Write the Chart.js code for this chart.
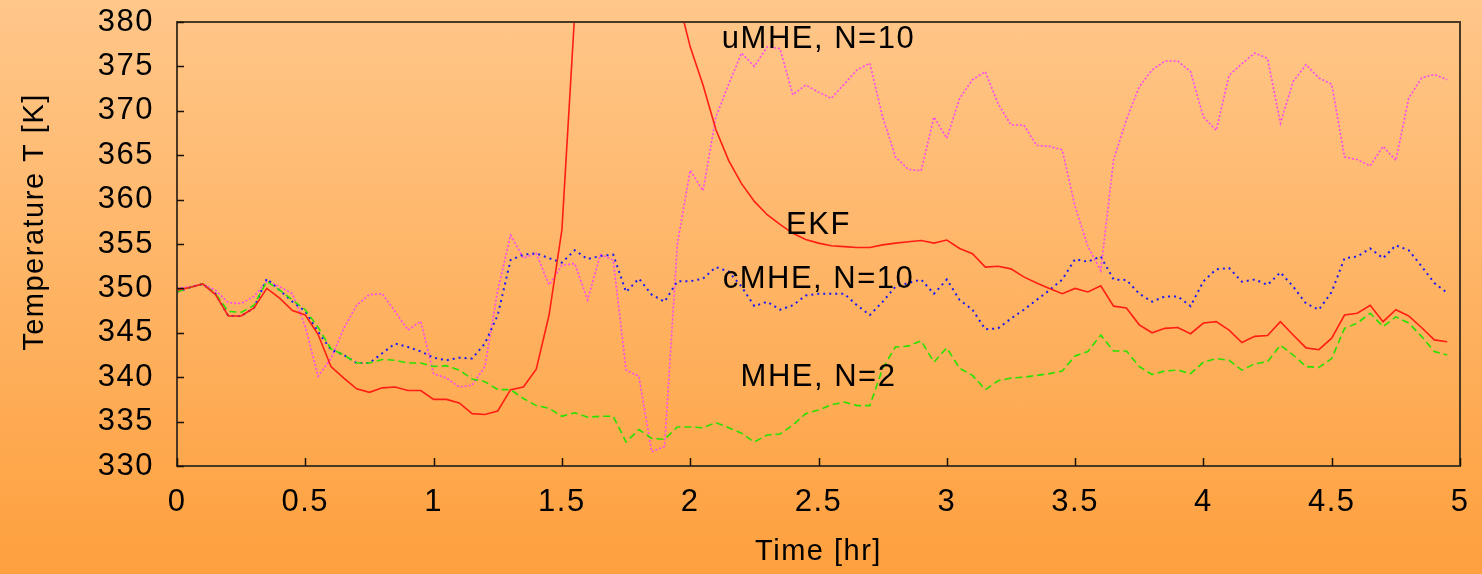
<!DOCTYPE html>
<html>
<head>
<meta charset="utf-8">
<script src="https://cdn.jsdelivr.net/npm/chart.js@4"></script>
<style>
    html, body {
        margin: 0;
        padding: 0;
    }
    body {
        width: 1482px;
        height: 574px;
        background: linear-gradient(to bottom, rgb(255, 199, 138), rgb(254, 160, 62));
        overflow: hidden;
    }
    #box {
        width: 1482px;
        height: 574px;
    }
</style>
</head>
<body>
<div id="box"><canvas id="tempChart"></canvas></div>
<script>
// time in hours, one sample every 3 minutes
const timeHr = [
    0, 0.05, 0.1, 0.15, 0.2, 0.25, 0.3, 0.35, 0.4, 0.45,
    0.5, 0.55, 0.6, 0.65, 0.7, 0.75, 0.8, 0.85, 0.9, 0.95,
    1, 1.05, 1.1, 1.15, 1.2, 1.25, 1.3, 1.35, 1.4, 1.45,
    1.5, 1.55, 1.6, 1.65, 1.7, 1.75, 1.8, 1.85, 1.9, 1.95,
    2, 2.05, 2.1, 2.15, 2.2, 2.25, 2.3, 2.35, 2.4, 2.45,
    2.5, 2.55, 2.6, 2.65, 2.7, 2.75, 2.8, 2.85, 2.9, 2.95,
    3, 3.05, 3.1, 3.15, 3.2, 3.25, 3.3, 3.35, 3.4, 3.45,
    3.5, 3.55, 3.6, 3.65, 3.7, 3.75, 3.8, 3.85, 3.9, 3.95,
    4, 4.05, 4.1, 4.15, 4.2, 4.25, 4.3, 4.35, 4.4, 4.45,
    4.5, 4.55, 4.6, 4.65, 4.7, 4.75, 4.8, 4.85, 4.9, 4.95
]

const ekf = [
    349.8, 350.1, 350.5, 349.3, 346.9, 346.9, 347.8, 350.0, 348.9, 347.5,
    347.0, 344.8, 341.2, 339.9, 338.7, 338.3, 338.8, 338.9, 338.5, 338.5,
    337.5, 337.5, 337.1, 335.9, 335.8, 336.2, 338.6, 338.9, 340.9, 347.0,
    356.6, 381.0, 392.0, 400.0, 404.0, 404.0, 400.0, 395.0, 389.0, 383.0,
    377.2, 372.9, 367.9, 364.4, 361.8, 359.8, 358.3, 357.2, 356.2, 355.5,
    355.1, 354.8, 354.7, 354.6, 354.6, 354.9, 355.1, 355.25, 355.4, 355.1,
    355.45, 354.5, 353.9, 352.4, 352.5, 352.2, 351.3, 350.6, 350.0, 349.4,
    350.0, 349.6, 350.3, 348.0, 347.8, 345.9, 345.0, 345.5, 345.6, 344.9,
    346.1, 346.25, 345.3, 343.9, 344.6, 344.7, 346.25, 344.75, 343.3, 343.1,
    344.4, 347.0, 347.2, 348.1, 346.25, 347.6, 346.9, 345.6, 344.2, 344.0
]

const mheN2 = [
    349.6, 350.1, 350.5, 349.4, 347.4, 347.3, 348.1, 350.8, 349.8, 348.7,
    347.6, 345.6, 343.2, 342.5, 341.6, 341.6, 342.0, 341.9, 341.6, 341.6,
    341.2, 341.3, 340.8, 339.8, 339.5, 338.6, 338.6, 337.6, 336.8, 336.5,
    335.6, 336.0, 335.5, 335.6, 335.6, 332.7, 334.1, 333.1, 333.0, 334.4,
    334.4, 334.3, 334.9, 334.3, 333.7, 332.7, 333.5, 333.6, 334.6, 335.9,
    336.3, 336.9, 337.2, 336.8, 336.8, 341.0, 343.4, 343.5, 344.1, 341.7,
    343.3, 341.0, 340.2, 338.6, 339.6, 339.9, 340.0, 340.2, 340.4, 340.7,
    342.4, 342.9, 344.75, 342.95, 342.95, 341.2, 340.3, 340.7, 340.8, 340.4,
    341.7, 342.1, 341.9, 340.8, 341.5, 341.75, 343.6, 342.5, 341.2, 341.1,
    342.1, 345.5, 346.1, 347.2, 345.7, 346.8, 346.1, 344.6, 342.9, 342.5
]

const cmheN10 = [
    349.6, 350.1, 350.5, 349.4, 346.9, 346.9, 347.8, 351.1, 349.8, 348.5,
    347.4, 345.1, 343.1, 342.5, 341.6, 341.6, 342.7, 343.8, 343.4, 342.9,
    342.2, 341.9, 342.2, 342.1, 343.8, 347.0, 353.2, 353.8, 353.95, 353.4,
    352.9, 354.3, 353.3, 353.65, 353.8, 349.6, 351.1, 349.3, 348.5, 350.8,
    350.8, 351.1, 352.4, 351.9, 350.2, 348.0, 348.5, 347.6, 348.1, 349.2,
    349.4, 349.4, 349.4, 348.1, 347.0, 348.5, 350.2, 350.6, 351.0, 349.4,
    351.0, 348.7, 347.6, 345.4, 345.5, 346.6, 347.6, 348.7, 349.8, 351.0,
    353.3, 353.0, 353.6, 351.0, 350.95, 349.4, 348.5, 349.1, 349.1, 348.0,
    350.8, 352.15, 352.3, 350.75, 351.0, 350.4, 351.8, 350.2, 348.3, 347.6,
    349.6, 353.4, 353.6, 354.5, 353.4, 354.85, 354.3, 352.5, 350.6, 349.5
]

const umheN10 = [
    350.0, 350.2, 350.5, 349.8, 348.4, 348.3, 349.1, 350.8, 350.2, 349.4,
    345.7, 340.1, 342.1, 345.5, 348.1, 349.3, 349.4, 347.4, 345.3, 346.3,
    340.4, 339.9, 338.9, 339.1, 341.2, 349.8, 356.0, 353.4, 353.95, 350.4,
    352.6, 352.8, 348.7, 353.8, 353.2, 340.8, 340.1, 331.6, 332.2, 355.0,
    363.3, 361.0, 369.3, 373.0, 376.5, 375.0, 377.2, 377.0, 371.8, 372.9,
    372.1, 371.4, 373.0, 374.6, 375.35, 369.3, 364.8, 363.4, 363.25, 369.3,
    366.9, 371.4, 373.5, 374.4, 370.8, 368.4, 368.4, 366.1, 366.0, 365.6,
    359.2, 354.7, 352.0, 364.5, 369.0, 372.7, 374.6, 375.6, 375.6, 374.4,
    369.3, 367.8, 374.0, 375.3, 376.5, 375.9, 368.6, 373.3, 375.2, 373.7,
    373.0, 364.8, 364.5, 363.8, 366.0, 364.4, 371.4, 373.7, 374.1, 373.5
]

const yTicks = [330, 335, 340, 345, 350, 355, 360, 365, 370, 375, 380]

// text placed inside the plot, in data coordinates
const curveLabels = [
    { text: 'uMHE, N=10', x: 2.5, y: 378.0 },
    { text: 'EKF', x: 2.5, y: 357.1 },
    { text: 'cMHE, N=10', x: 2.5, y: 351.0 },
    { text: 'MHE, N=2', x: 2.5, y: 340.0 },
]

const yTitle = 'Temperature T [K]'
const fontFamily = '"Liberation Sans", Arial, Helvetica, sans-serif'
const frameColor = 'rgb(75, 56, 36)'

function toPoints(values) {
    return values.map((v, i) => ({ x: timeHr[i], y: v }));
}

const framePlugin = {
    id: 'frame',
    beforeDraw(chart) {
        chart.ctx.letterSpacing = '1.5px';
    },
    afterDraw(chart) {
        const ctx = chart.ctx;
        const area = chart.chartArea;
        const xs = chart.scales.x;
        const ys = chart.scales.y;
        ctx.save();
        ctx.strokeStyle = frameColor;
        ctx.lineWidth = 2;
        ctx.strokeRect(area.left, area.top, area.right - area.left, area.bottom - area.top);

        // ticks pointing into the plot
        ctx.strokeStyle = '#1a1208';
        ctx.lineWidth = 1.5;
        ctx.beginPath();
        xs.ticks.forEach(t => {
            const px = Math.round(xs.getPixelForValue(t.value)) + 0.5;
            ctx.moveTo(px, area.bottom);
            ctx.lineTo(px, area.bottom - 8);
        });
        ys.ticks.forEach(t => {
            const py = Math.round(ys.getPixelForValue(t.value)) + 0.5;
            ctx.moveTo(area.left, py);
            ctx.lineTo(area.left + 7, py);
        });
        ctx.stroke();

        ctx.fillStyle = '#000';
        ctx.font = '31px ' + fontFamily;
        ctx.textAlign = 'center';
        ctx.textBaseline = 'middle';
        curveLabels.forEach(l => {
            ctx.fillText(l.text, xs.getPixelForValue(l.x), ys.getPixelForValue(l.y));
        });

        // y axis title, sits a bit above the middle of the axis
        ctx.font = '29px ' + fontFamily;
        ctx.translate(35, 222);
        ctx.rotate(-Math.PI / 2);
        ctx.fillText(yTitle, 0, 0);
        ctx.restore();
    }
}

new Chart(document.getElementById('tempChart'), {
    type: 'line',
    data: {
        datasets: [
            {
                label: 'EKF',
                data: toPoints(ekf),
                borderColor: 'rgb(255, 30, 20)',
                borderWidth: 1.6,
            },
            {
                label: 'MHE, N=2',
                data: toPoints(mheN2),
                borderColor: 'rgb(40, 225, 0)',
                borderWidth: 1.6,
                borderDash: [7, 4],
            },
            {
                label: 'cMHE, N=10',
                data: toPoints(cmheN10),
                borderColor: 'rgb(25, 25, 245)',
                borderWidth: 2,
                borderDash: [2, 4],
            },
            {
                label: 'uMHE, N=10',
                data: toPoints(umheN10),
                borderColor: 'rgb(255, 70, 240)',
                borderWidth: 1.6,
                borderDash: [2, 2],
            },
        ]
    },
    options: {
        responsive: true,
        maintainAspectRatio: false,
        animation: false,
        elements: {
            point: { radius: 0 },
            line: { tension: 0, fill: false }
        },
        layout: {
            padding: { top: 22, right: 22, left: 0, bottom: 0 }
        },
        plugins: {
            legend: { display: false },
            tooltip: { enabled: false }
        },
        scales: {
            x: {
                type: 'linear',
                min: 0,
                max: 5,
                grid: { display: false },
                border: { display: false },
                ticks: {
                    stepSize: 0.5,
                    autoSkip: false,
                    maxRotation: 0,
                    padding: 10,
                    color: '#000',
                    font: { family: fontFamily, size: 31 },
                    callback: v => String(v)
                },
                title: {
                    display: true,
                    text: 'Time [hr]',
                    color: '#000',
                    font: { family: fontFamily, size: 29 },
                    padding: { top: 0, bottom: 5 }
                },
                afterFit: scale => {
                    scale.height = 108;
                    scale.paddingLeft = 0;
                    scale.paddingRight = 0;
                }
            },
            y: {
                min: yTicks[0],
                max: yTicks[yTicks.length - 1],
                grid: { display: false },
                border: { display: false },
                afterBuildTicks: scale => {
                    scale.ticks = yTicks.map(v => ({ value: v }));
                },
                ticks: {
                    padding: 15,
                    color: '#000',
                    font: { family: fontFamily, size: 31 },
                    callback: v => String(v)
                },
                afterFit: scale => {
                    scale.width = 177;
                    scale.paddingTop = 0;
                    scale.paddingBottom = 0;
                }
            }
        }
    },
    plugins: [framePlugin]
});
</script>
</body>
</html>
